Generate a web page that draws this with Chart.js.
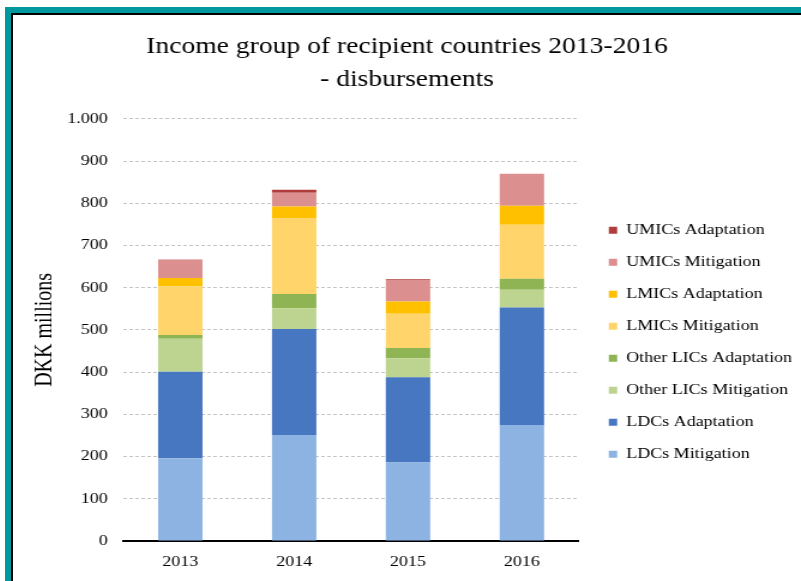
<!DOCTYPE html>
<html lang="en">
    <head>
        <meta charset="utf-8" />
        <title>Income group of recipient countries</title>
        <script src="https://cdn.jsdelivr.net/npm/chart.js@4.4.0/dist/chart.umd.min.js"></script>
        <style>
            body { margin: 0; background: #fff; overflow: hidden; }
            .frame { position: absolute; left: 5px; top: 7px; width: 796px; height: 574px;
                     border-left: 6px solid #00979f; border-top: 6px solid #00979f; }
            .inner { position: absolute; left: 0; top: 0; width: 790px; height: 568px;
                     border-left: 2px solid #000; border-top: 2px solid #000; overflow: hidden; }
            /* the original picture is stretched sideways, so is this one */
            canvas { position: absolute; left: 0; top: 0; transform: scaleX(1.1994); transform-origin: 0 0; }
        </style>
    </head>
    <body>
        <div class="frame"><div class="inner">
            <canvas id="incomeChart" width="657" height="566"></canvas>
        </div></div>
        <script>
        // years and series (DKK millions)
        var years = ['2013', '2014', '2015', '2016'];
        var ldcMitigation = [196, 251, 186, 275];
        var ldcAdaptation = [205, 251, 202, 278];
        var licMitigation = [78, 49, 45, 42];
        var licAdaptation = [9, 34, 24, 26];
        var lmicMitigation = [115, 180, 81, 128];
        var lmicAdaptation = [20, 27, 29, 45];
        var umicMitigation = [43, 33, 51, 76];
        var umicAdaptation = [1, 7, 2, 0];
        var yTicks = [0, 100, 200, 300, 400, 500, 600, 700, 800, 900, 1000];

        var serif = "'Liberation Serif', 'Times New Roman', serif";

        function ds(label, data, color) {
            return { label: label, data: data, backgroundColor: color, borderWidth: 0 };
        }

        // legend is capped to a quarter of the width by the layout, so widen it
        // (and nudge the title back to the middle) once the layout is done
        var nudge = {
            id: 'nudge',
            afterLayout: function (chart) {
                chart.legend.left += 8;
                chart.legend.right = chart.width;
                chart.legend.width = chart.legend.right - chart.legend.left;
                chart.titleBlock.left += 9;
                chart.titleBlock.right += 9;
            }
        };

        var ctx = document.getElementById('incomeChart').getContext('2d');
        var chart = new Chart(ctx, {
            type: 'bar',
            data: {
                labels: years,
                datasets: [
                    ds('LDCs Mitigation', ldcMitigation, '#8db3e2'),
                    ds('LDCs Adaptation', ldcAdaptation, '#4677c0'),
                    ds('Other LICs Mitigation', licMitigation, '#bcd48f'),
                    ds('Other LICs Adaptation', licAdaptation, '#8fb454'),
                    ds('LMICs Mitigation', lmicMitigation, '#ffd46a'),
                    ds('LMICs Adaptation', lmicAdaptation, '#ffc000'),
                    ds('UMICs Mitigation', umicMitigation, '#dc8f8f'),
                    ds('UMICs Adaptation', umicAdaptation, '#b03c3c')
                ]
            },
            plugins: [nudge],
            options: {
                responsive: false,
                animation: false,
                layout: { padding: { left: 15, right: 33, bottom: 10 } },
                datasets: { bar: { categoryPercentage: 1, barPercentage: 0.39 } },
                plugins: {
                    title: {
                        display: true,
                        text: ['Income group of recipient countries 2013-2016', '- disbursements'],
                        color: '#000',
                        font: { family: serif, size: 23, weight: 'normal', lineHeight: 1.43 },
                        padding: { top: 16, bottom: 22 }
                    },
                    legend: {
                        position: 'right',
                        reverse: true,
                        title: { display: true, text: ' ', font: { size: 12 }, padding: { top: 42, bottom: 42 } },
                        labels: {
                            color: '#000',
                            font: { family: serif, size: 15 },
                            boxWidth: 7,
                            boxHeight: 7,
                            padding: 17
                        }
                    },
                    tooltip: { enabled: false }
                },
                scales: {
                    x: {
                        stacked: true,
                        grid: { display: false, drawTicks: false },
                        border: { display: true, color: '#000', width: 2 },
                        ticks: { color: '#000', font: { family: serif, size: 15 }, padding: 12 },
                        afterFit: function (scale) { scale.height = 30; }
                    },
                    y: {
                        stacked: true,
                        min: 0,
                        max: 1000,
                        afterBuildTicks: function (scale) {
                            scale.ticks = yTicks.map(function (v) { return { value: v }; });
                        },
                        afterFit: function (scale) { scale.width = 77; },
                        grid: { color: '#c4c4c4', lineWidth: 1, drawTicks: false },
                        border: { display: false, dash: [3, 2] },
                        ticks: {
                            color: '#000',
                            padding: 13,
                            font: { family: serif, size: 15 },
                            callback: function (v) {
                                return String(v).replace(/\B(?=(\d{3})+(?!\d))/g, '.');
                            }
                        },
                        title: {
                            display: true,
                            text: 'DKK millions',
                            color: '#000',
                            font: { family: serif, size: 20 },
                            padding: { top: 0, bottom: 6 }
                        }
                    }
                }
            }
        });
        </script>
    </body>
</html>
